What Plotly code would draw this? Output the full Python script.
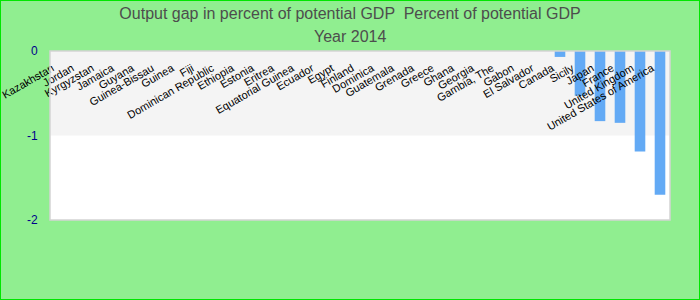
import plotly.graph_objects as go

countries = ["Kazakhstan", "Jordan", "Kyrgyzstan", "Jamaica", "Guyana", "Guinea-Bissau",
             "Guinea", "Fiji", "Dominican Republic", "Ethiopia", "Estonia", "Eritrea",
             "Equatorial Guinea", "Ecuador", "Egypt", "Finland", "Dominica", "Guatemala",
             "Grenada", "Greece", "Ghana", "Georgia", "Gambia, The", "Gabon", "El Salvador",
             "Canada", "Sicily", "Japan", "France", "United Kingdom", "United States of America"]
output_gap = [0, 0, 0, 0, 0, 0, 0, 0, 0, 0, 0, 0, 0, 0, 0, 0, 0, 0, 0, 0, 0, 0, 0, 0, 0,
              -0.07, -0.53, -0.83, -0.85, -1.19, -1.70]
y_tick_vals = [0, -1, -2]
y_tick_text = ["0", "-1", "-2"]
band_range = [-1, 0]
title_line1 = "Output gap in percent of potential GDP &nbsp;Percent of potential GDP"
title_line2 = "Year 2014"

FONT = "Liberation Sans, Arial, sans-serif"

fig = go.Figure()
fig.add_trace(go.Bar(
    x=countries, y=output_gap,
    marker=dict(color="#63aaf5", line=dict(width=0)),
    width=0.53,
    showlegend=False,
))

fig.update_layout(
    width=700, height=300,
    margin=dict(l=50, r=30, t=51, b=80, autoexpand=False),
    paper_bgcolor="#90ee90",
    plot_bgcolor="#ffffff",
    font=dict(family=FONT),
    title=dict(
        text=title_line1,
        x=0.5, xanchor="center", xref="container",
        y=1 - 13 / 300, yanchor="middle", yref="container",
        font=dict(size=16, color="#4d4d4d", family=FONT),
    ),
    annotations=[dict(
        text=title_line2, xref="paper", yref="paper",
        x=(350 - 50) / 620, y=1 + (51 - 36) / 169,
        xanchor="center", yanchor="middle", showarrow=False,
        font=dict(size=16, color="#4d4d4d", family=FONT),
    )],
    xaxis=dict(
        type="category",
        range=[-0.5, len(countries) - 0.5],
        anchor="free", position=1, side="bottom",
        tickangle=-30,
        showgrid=False, showline=False, zeroline=False,
        ticks="",
        ticklabelshift=-8, ticklabelstandoff=8,
        tickfont=dict(size=11, color="#000000", family=FONT),
        automargin=False,
        fixedrange=True,
    ),
    yaxis=dict(
        range=[-2, 0],
        tickvals=y_tick_vals, ticktext=y_tick_text,
        showgrid=False, zeroline=False, showline=False,
        ticks="outside", ticklen=9, tickcolor="rgba(0,0,0,0)",
        tickfont=dict(size=12, color="#00008b", family=FONT),
        automargin=False,
    ),
    bargap=0.47,
    shapes=[
        dict(type="rect", xref="paper", yref="y", x0=0, x1=1,
             y0=band_range[0], y1=band_range[1],
             fillcolor="#f4f4f4", line=dict(width=0), layer="below"),
        dict(type="rect", xref="paper", yref="paper", x0=0, x1=1, y0=0, y1=1,
             line=dict(color="#d3d3d3", width=1.5), fillcolor="rgba(0,0,0,0)", layer="above"),
        dict(type="rect", xref="paper", yref="paper",
             x0=-50 / 620, x1=1 + 30 / 620, y0=-80 / 169, y1=1 + 51 / 169,
             line=dict(color="#00e600", width=2), fillcolor="rgba(0,0,0,0)", layer="above"),
    ],
)

fig.write_html("out.html")
